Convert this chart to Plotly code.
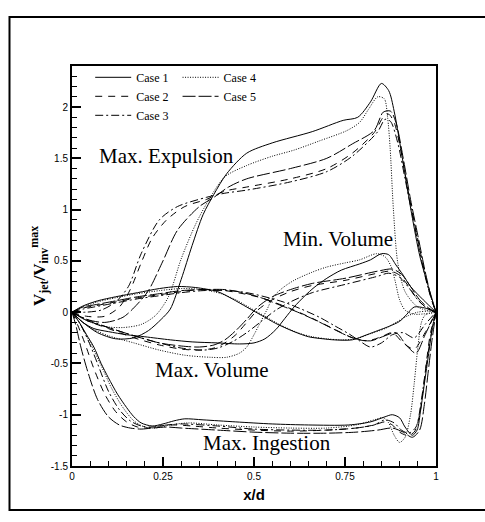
import plotly.graph_objects as go

# ---------------- data ----------------
# Phase: Max. Expulsion
exp_c1_x = [0, 0.03, 0.07, 0.12, 0.17, 0.21, 0.245, 0.27, 0.30, 0.33, 0.36, 0.39, 0.425, 0.48, 0.55, 0.66, 0.745, 0.785, 0.82, 0.85, 0.87, 0.885, 0.91, 0.933, 0.956, 0.979, 1]
exp_c1_y = [0, -0.1, -0.2, -0.26, -0.25, -0.18, -0.07, 0.03, 0.32, 0.65, 0.95, 1.15, 1.35, 1.55, 1.65, 1.76, 1.87, 1.9, 2.05, 2.23, 2.16, 1.96, 1.45, 0.96, 0.54, 0.25, 0]
exp_c2_x = [0, 0.04, 0.09, 0.13, 0.16, 0.19, 0.22, 0.26, 0.31, 0.37, 0.42, 0.48, 0.6, 0.7, 0.77, 0.83, 0.855, 0.87, 0.885, 0.905, 0.925, 0.945, 0.965, 0.985, 1]
exp_c2_y = [0, -0.04, -0.04, 0.05, 0.22, 0.48, 0.72, 0.9, 1.03, 1.1, 1.18, 1.22, 1.3, 1.4, 1.55, 1.75, 1.9, 1.93, 1.85, 1.55, 1.15, 0.8, 0.45, 0.15, 0]
exp_c3_x = [0, 0.04, 0.08, 0.12, 0.155, 0.19, 0.24, 0.29, 0.37, 0.42, 0.48, 0.6, 0.7, 0.77, 0.84, 0.86, 0.875, 0.895, 0.915, 0.935, 0.955, 0.975, 1]
exp_c3_y = [0, 0.0, 0.02, 0.1, 0.25, 0.57, 0.9, 1.03, 1.12, 1.16, 1.19, 1.27, 1.37, 1.52, 1.76, 1.88, 1.86, 1.65, 1.3, 0.95, 0.6, 0.28, 0]
exp_c4_x = [0, 0.04, 0.09, 0.14, 0.19, 0.23, 0.265, 0.30, 0.34, 0.375, 0.42, 0.48, 0.55, 0.61, 0.68, 0.755, 0.79, 0.815, 0.84, 0.858, 0.867, 0.874, 0.883, 0.895, 0.915, 0.95, 1]
exp_c4_y = [0, -0.08, -0.14, -0.15, -0.12, -0.03, 0.15, 0.52, 0.86, 1.09, 1.32, 1.43, 1.52, 1.58, 1.67, 1.77, 1.85, 1.98, 2.1, 2.08, 1.9, 1.6, 1.0, 0.48, 0.2, 0.05, 0]
exp_c5_x = [0, 0.04, 0.09, 0.14, 0.18, 0.21, 0.25, 0.29, 0.35, 0.39, 0.43, 0.48, 0.6, 0.7, 0.77, 0.83, 0.855, 0.875, 0.89, 0.91, 0.93, 0.95, 0.97, 0.99, 1]
exp_c5_y = [0, -0.07, -0.1, -0.05, 0.08, 0.21, 0.5, 0.8, 1.03, 1.12, 1.22, 1.3, 1.4, 1.5, 1.64, 1.77, 1.95, 1.96, 1.85, 1.5, 1.1, 0.75, 0.4, 0.1, 0]

# Phase: Min. Volume
minv_c1_x = [0, 0.03, 0.06, 0.10, 0.15, 0.2, 0.27, 0.33, 0.4, 0.46, 0.5, 0.53, 0.56, 0.585, 0.61, 0.64, 0.665, 0.7, 0.74, 0.79, 0.82, 0.85, 0.87, 0.89, 0.91, 0.93, 0.965, 1]
minv_c1_y = [0, -0.1, -0.16, -0.19, -0.22, -0.24, -0.27, -0.29, -0.3, -0.31, -0.3, -0.26, -0.17, -0.06, 0.05, 0.16, 0.24, 0.33, 0.41, 0.47, 0.51, 0.57, 0.56, 0.46, 0.36, 0.25, 0.12, 0]
minv_c2_x = [0, 0.04, 0.1, 0.17, 0.24, 0.3, 0.35, 0.39, 0.42, 0.45, 0.48, 0.51, 0.55, 0.6, 0.66, 0.75, 0.84, 0.875, 0.9, 0.925, 0.95, 0.975, 1]
minv_c2_y = [0, -0.08, -0.16, -0.25, -0.32, -0.36, -0.37, -0.35, -0.3, -0.22, -0.1, 0.02, 0.12, 0.2, 0.26, 0.31, 0.38, 0.4, 0.36, 0.25, 0.12, 0.04, 0]
minv_c3_x = [0, 0.04, 0.1, 0.17, 0.24, 0.3, 0.36, 0.4, 0.44, 0.48, 0.52, 0.56, 0.6, 0.66, 0.75, 0.84, 0.87, 0.9, 0.925, 0.95, 0.975, 1]
minv_c3_y = [0, -0.07, -0.15, -0.23, -0.3, -0.35, -0.37, -0.35, -0.29, -0.2, -0.09, 0.02, 0.1, 0.19, 0.27, 0.35, 0.38, 0.34, 0.24, 0.12, 0.04, 0]
minv_c4_x = [0, 0.03, 0.06, 0.10, 0.17, 0.24, 0.31, 0.38, 0.425, 0.46, 0.48, 0.5, 0.516, 0.535, 0.553, 0.58, 0.61, 0.66, 0.7, 0.75, 0.79, 0.837, 0.86, 0.876, 0.888, 0.9, 0.915, 0.94, 1]
minv_c4_y = [0, -0.1, -0.17, -0.23, -0.3, -0.37, -0.42, -0.44, -0.44, -0.4, -0.34, -0.22, -0.11, 0.02, 0.15, 0.24, 0.31, 0.39, 0.44, 0.48, 0.51, 0.57, 0.54, 0.45, 0.3, 0.12, 0.02, -0.02, 0]
minv_c5_x = [0, 0.04, 0.1, 0.17, 0.24, 0.3, 0.35, 0.39, 0.42, 0.45, 0.48, 0.51, 0.55, 0.6, 0.66, 0.75, 0.84, 0.88, 0.905, 0.93, 0.955, 0.98, 1]
minv_c5_y = [0, -0.08, -0.15, -0.23, -0.3, -0.33, -0.34, -0.32, -0.27, -0.18, -0.07, 0.05, 0.15, 0.22, 0.28, 0.33, 0.4, 0.42, 0.37, 0.25, 0.12, 0.04, 0]

# Phase: Max. Volume
maxv_c1_x = [0, 0.03, 0.07, 0.12, 0.18, 0.24, 0.29, 0.34, 0.4, 0.44, 0.48, 0.52, 0.56, 0.61, 0.65, 0.69, 0.72, 0.77, 0.81, 0.84, 0.87, 0.9, 0.92, 0.94, 0.97, 1]
maxv_c1_y = [0, 0.06, 0.11, 0.15, 0.19, 0.23, 0.25, 0.24, 0.2, 0.13, 0.05, -0.03, -0.11, -0.19, -0.24, -0.26, -0.27, -0.27, -0.22, -0.18, -0.14, -0.09, -0.02, 0.05, 0.04, 0]
maxv_c2_x = [0, 0.03, 0.06, 0.12, 0.18, 0.24, 0.3, 0.35, 0.42, 0.47, 0.52, 0.56, 0.61, 0.66, 0.7, 0.74, 0.77, 0.81, 0.85, 0.88, 0.91, 0.94, 0.97, 1]
maxv_c2_y = [0, 0.04, 0.06, 0.1, 0.14, 0.17, 0.2, 0.22, 0.21, 0.18, 0.14, 0.09, 0.02, -0.06, -0.13, -0.2, -0.25, -0.28, -0.24, -0.2, -0.3, -0.36, -0.2, 0]
maxv_c3_x = [0, 0.03, 0.06, 0.12, 0.18, 0.24, 0.3, 0.36, 0.43, 0.48, 0.53, 0.58, 0.63, 0.68, 0.72, 0.76, 0.79, 0.82, 0.85, 0.88, 0.91, 0.94, 0.97, 1]
maxv_c3_y = [0, 0.03, 0.05, 0.09, 0.13, 0.16, 0.19, 0.21, 0.21, 0.19, 0.15, 0.1, 0.03, -0.05, -0.13, -0.21, -0.28, -0.34, -0.3, -0.22, -0.2, -0.25, -0.12, 0]
maxv_c4_x = [0, 0.03, 0.07, 0.12, 0.18, 0.24, 0.3, 0.36, 0.41, 0.45, 0.49, 0.53, 0.57, 0.62, 0.66, 0.7, 0.74, 0.78, 0.82, 0.86, 0.89, 0.92, 0.95, 0.98, 1]
maxv_c4_y = [0, 0.05, 0.1, 0.14, 0.18, 0.21, 0.23, 0.22, 0.18, 0.12, 0.04, -0.04, -0.12, -0.2, -0.24, -0.26, -0.27, -0.26, -0.21, -0.16, -0.1, -0.04, 0.0, 0.01, 0]
maxv_c5_x = [0, 0.03, 0.06, 0.12, 0.18, 0.24, 0.3, 0.36, 0.42, 0.47, 0.52, 0.57, 0.62, 0.67, 0.71, 0.75, 0.78, 0.82, 0.86, 0.89, 0.92, 0.945, 0.97, 1]
maxv_c5_y = [0, 0.05, 0.07, 0.11, 0.15, 0.18, 0.21, 0.22, 0.22, 0.19, 0.14, 0.07, 0.0, -0.08, -0.15, -0.22, -0.26, -0.28, -0.23, -0.2, -0.33, -0.4, -0.22, 0]

# Phase: Max. Ingestion
ing_c1_x = [0, 0.02, 0.04, 0.06, 0.08, 0.1, 0.125, 0.15, 0.17, 0.19, 0.22, 0.25, 0.28, 0.31, 0.36, 0.45, 0.55, 0.65, 0.76, 0.82, 0.86, 0.88, 0.9, 0.915, 0.935, 0.948, 0.958, 0.968, 0.98, 0.99, 1]
ing_c1_y = [0, -0.1, -0.22, -0.34, -0.5, -0.64, -0.8, -0.93, -1.02, -1.08, -1.11, -1.09, -1.06, -1.04, -1.05, -1.07, -1.09, -1.1, -1.1, -1.07, -1.02, -1.0, -1.03, -1.12, -1.2, -1.15, -0.95, -0.7, -0.4, -0.15, 0]
ing_c2_x = [0, 0.015, 0.035, 0.06, 0.09, 0.12, 0.15, 0.18, 0.21, 0.24, 0.28, 0.33, 0.4, 0.5, 0.6, 0.7, 0.78, 0.83, 0.86, 0.88, 0.9, 0.92, 0.94, 0.955, 0.965, 0.975, 0.985, 1]
ing_c2_y = [0, -0.12, -0.3, -0.55, -0.8, -0.97, -1.07, -1.12, -1.13, -1.11, -1.1, -1.11, -1.13, -1.15, -1.16, -1.15, -1.13, -1.1, -1.07, -1.1, -1.17, -1.2, -1.17, -1.0, -0.75, -0.45, -0.2, 0]
ing_c3_x = [0, 0.02, 0.045, 0.07, 0.1, 0.13, 0.16, 0.19, 0.22, 0.26, 0.3, 0.4, 0.5, 0.6, 0.7, 0.78, 0.83, 0.86, 0.885, 0.905, 0.925, 0.945, 0.96, 0.972, 0.985, 1]
ing_c3_y = [0, -0.1, -0.28, -0.5, -0.77, -0.95, -1.06, -1.11, -1.12, -1.1, -1.09, -1.11, -1.14, -1.15, -1.15, -1.13, -1.1, -1.05, -1.08, -1.15, -1.18, -1.12, -0.85, -0.55, -0.25, 0]
ing_c4_x = [0, 0.02, 0.05, 0.08, 0.11, 0.14, 0.17, 0.2, 0.23, 0.27, 0.32, 0.4, 0.5, 0.6, 0.7, 0.78, 0.83, 0.855, 0.87, 0.885, 0.9, 0.915, 0.93, 0.94, 0.95, 0.96, 0.97, 1]
ing_c4_y = [0, -0.1, -0.3, -0.52, -0.75, -0.93, -1.06, -1.12, -1.13, -1.1, -1.08, -1.1, -1.12, -1.13, -1.13, -1.1, -1.05, -1.03, -1.08, -1.2, -1.27, -1.22, -1.0, -0.7, -0.35, -0.1, -0.03, 0]
ing_c5_x = [0, 0.01, 0.025, 0.045, 0.07, 0.1, 0.13, 0.16, 0.19, 0.22, 0.26, 0.3, 0.4, 0.5, 0.6, 0.7, 0.78, 0.84, 0.88, 0.91, 0.935, 0.955, 0.968, 0.978, 0.988, 1]
ing_c5_y = [0, -0.12, -0.35, -0.6, -0.85, -1.02, -1.1, -1.13, -1.14, -1.13, -1.12, -1.13, -1.15, -1.17, -1.18, -1.18, -1.17, -1.15, -1.13, -1.17, -1.22, -1.15, -0.9, -0.6, -0.3, 0]

case_names = ["Case 1", "Case 2", "Case 3", "Case 4", "Case 5"]
x_tick_vals = [0, 0.25, 0.5, 0.75, 1]
x_tick_text = ["0", "0.25", "0.5", "0.75", "1"]
y_tick_vals = [-1.5, -1, -0.5, 0, 0.5, 1, 1.5, 2]
y_tick_text = ["-1.5", "-1", "-0.5", "0", "0.5", "1", "1.5", "2"]
phase_labels = ["Max. Expulsion", "Min. Volume", "Max. Volume", "Max. Ingestion"]
phase_label_x = [0.259, 0.732, 0.384, 0.537]
phase_label_y = [1.52, 0.71, -0.565, -1.28]

curves = {
    "Case 1": [(exp_c1_x, exp_c1_y), (minv_c1_x, minv_c1_y), (maxv_c1_x, maxv_c1_y), (ing_c1_x, ing_c1_y)],
    "Case 2": [(exp_c2_x, exp_c2_y), (minv_c2_x, minv_c2_y), (maxv_c2_x, maxv_c2_y), (ing_c2_x, ing_c2_y)],
    "Case 3": [(exp_c3_x, exp_c3_y), (minv_c3_x, minv_c3_y), (maxv_c3_x, maxv_c3_y), (ing_c3_x, ing_c3_y)],
    "Case 4": [(exp_c4_x, exp_c4_y), (minv_c4_x, minv_c4_y), (maxv_c4_x, maxv_c4_y), (ing_c4_x, ing_c4_y)],
    "Case 5": [(exp_c5_x, exp_c5_y), (minv_c5_x, minv_c5_y), (maxv_c5_x, maxv_c5_y), (ing_c5_x, ing_c5_y)],
}

# ---------------- styling ----------------
dashes = {
    "Case 1": "solid",
    "Case 2": "7px,6px",
    "Case 3": "8px,3px,2px,3px",
    "Case 4": "1px,1.5px",
    "Case 5": "13px,3px",
}
legend_of = {"Case 1": "legend", "Case 2": "legend", "Case 3": "legend",
             "Case 4": "legend2", "Case 5": "legend2"}

SERIF = "Liberation Serif, Times New Roman, serif"
SANS = "Arial, Liberation Sans, sans-serif"

fig = go.Figure()
for name in case_names:
    for i, (xs, ys) in enumerate(curves[name]):
        fig.add_trace(go.Scatter(
            x=xs, y=ys, mode="lines", name=name,
            line=dict(color="black", width=1, dash=dashes[name], shape="spline", smoothing=0.8),
            legendgroup=name, showlegend=(i == 0), legend=legend_of[name],
            hoverinfo="skip",
        ))

for txt, ax, ay in zip(phase_labels, phase_label_x, phase_label_y):
    fig.add_annotation(x=ax, y=ay, text=txt, showarrow=False,
                       font=dict(family=SERIF, size=21, color="black"))

# outer frame
fig.add_shape(type="rect", xref="paper", yref="paper",
              x0=-0.1717, x1=1.25, y0=-0.11, y1=1.1225,
              line=dict(color="black", width=2), layer="below")

legend_common = dict(font=dict(family=SERIF, size=12, color="black"),
                     bgcolor="rgba(0,0,0,0)", borderwidth=0,
                     orientation="v", xanchor="left", yanchor="top",
                     itemwidth=36, tracegroupgap=0)

fig.update_layout(
    width=485, height=522, autosize=False,
    margin=dict(l=72, r=49, t=66, b=56, pad=0),
    paper_bgcolor="white", plot_bgcolor="white",
    legend=dict(x=0.05, y=1.008, **legend_common),
    legend2=dict(x=0.29, y=1.008, **legend_common),
    xaxis=dict(range=[0, 1], tickvals=x_tick_vals, ticktext=x_tick_text,
               ticks="inside", ticklen=9, tickwidth=1.5, tickcolor="black",
               minor=dict(dtick=0.05, tick0=0, ticks="inside", ticklen=5, tickwidth=1, tickcolor="black"),
               showline=True, linewidth=2, linecolor="black", mirror=True,
               showgrid=False, zeroline=False,
               tickfont=dict(family=SANS, size=10, color="black"),
               title=dict(text="<b>x/d</b>", font=dict(family=SANS, size=15, color="black"), standoff=8)),
    yaxis=dict(range=[-1.5, 2.4], tickvals=y_tick_vals, ticktext=y_tick_text,
               ticks="inside", ticklen=9, tickwidth=1.5, tickcolor="black",
               minor=dict(dtick=0.1, tick0=0, ticks="inside", ticklen=5, tickwidth=1, tickcolor="black"),
               showline=True, linewidth=2, linecolor="black", mirror=True,
               showgrid=False, zeroline=False,
               tickfont=dict(family=SANS, size=10, color="black"),
               title=dict(text="<b>V<sub>jet</sub>/V<sub>inv</sub><sup>max</sup></b>",
                          font=dict(family=SERIF, size=17, color="black"), standoff=1)),
    showlegend=True,
)

fig.write_html("out.html",
               config={"displayModeBar": False},
               post_script="document.body.style.margin='0';document.body.style.padding='0';")
